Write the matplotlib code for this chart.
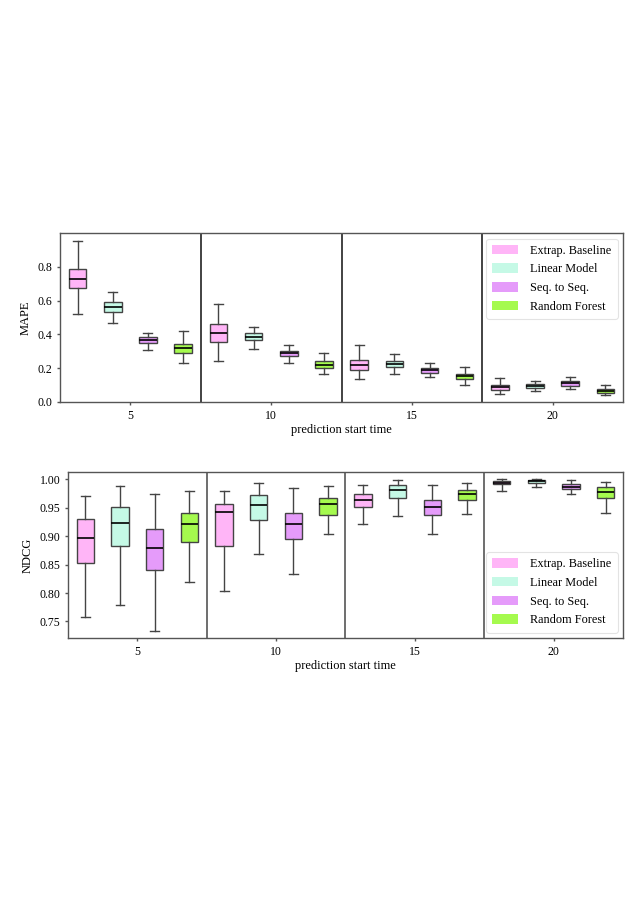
import matplotlib
matplotlib.use("Agg")
import matplotlib.pyplot as plt
from matplotlib.patches import Patch

plt.rcParams['font.family'] = ['Liberation Serif', 'DejaVu Serif']

times = [5, 10, 15, 20]
models = ["Extrap. Baseline", "Linear Model", "Seq. to Seq.", "Random Forest"]
colors = ["#FFB5F7", "#C5F9E6", "#E59BFA", "#A5FA4E"]

# MAPE: per model, per time: [low whisker, Q1, median, Q3, high whisker]
mape_extrap = [[0.518, 0.672, 0.727, 0.790, 0.954], [0.245, 0.358, 0.409, 0.460, 0.581],
               [0.136, 0.190, 0.217, 0.251, 0.336], [0.049, 0.069, 0.087, 0.103, 0.144]]
mape_linear = [[0.468, 0.535, 0.563, 0.589, 0.652], [0.312, 0.365, 0.385, 0.409, 0.446],
               [0.168, 0.209, 0.225, 0.241, 0.282], [0.065, 0.081, 0.095, 0.107, 0.124]]
mape_seq = [[0.310, 0.348, 0.365, 0.383, 0.409], [0.231, 0.271, 0.288, 0.300, 0.340],
            [0.146, 0.174, 0.188, 0.201, 0.233], [0.077, 0.097, 0.113, 0.124, 0.150]]
mape_rf = [[0.231, 0.288, 0.318, 0.346, 0.419], [0.166, 0.203, 0.221, 0.245, 0.290],
           [0.103, 0.134, 0.152, 0.168, 0.209], [0.040, 0.055, 0.067, 0.077, 0.101]]

ndcg_extrap = [[0.758, 0.853, 0.897, 0.930, 0.971], [0.803, 0.882, 0.942, 0.957, 0.979],
               [0.922, 0.952, 0.963, 0.974, 0.990], [0.980, 0.991, 0.994, 0.997, 1.000]]
ndcg_linear = [[0.779, 0.882, 0.924, 0.952, 0.988], [0.868, 0.929, 0.954, 0.973, 0.994],
               [0.936, 0.968, 0.982, 0.990, 0.998], [0.987, 0.994, 0.9965, 0.999, 1.000]]
ndcg_seq = [[0.734, 0.840, 0.880, 0.913, 0.974], [0.833, 0.895, 0.922, 0.941, 0.984],
            [0.903, 0.938, 0.952, 0.963, 0.990], [0.975, 0.9825, 0.9866, 0.991, 0.998]]
ndcg_rf = [[0.819, 0.890, 0.922, 0.941, 0.979], [0.903, 0.937, 0.957, 0.967, 0.988],
           [0.939, 0.964, 0.974, 0.982, 0.994], [0.940, 0.967, 0.978, 0.986, 0.995]]

mape_data = [mape_extrap, mape_linear, mape_seq, mape_rf]
ndcg_data = [ndcg_extrap, ndcg_linear, ndcg_seq, ndcg_rf]

fig = plt.figure(figsize=(6.41, 9.06), dpi=100)
ax1 = fig.add_axes([0.0936, 0.5563, 0.972 - 0.0936, 0.7428 - 0.5563])
ax2 = fig.add_axes([0.106, 0.2958, 0.972 - 0.106, 0.479 - 0.2958])

spine_col = "#555555"
edge_col = "#444444"


def draw(ax, data, ylabel, ylim, yticks, yfmt, legloc, sepcol):
    for m, (mdata, col) in enumerate(zip(data, colors)):
        stats = []
        pos = []
        for t, vals in zip(times, mdata):
            lo, q1, med, q3, hi = vals
            stats.append(dict(whislo=lo, q1=q1, med=med, q3=q3, whishi=hi, fliers=[]))
            pos.append(t - 2.5 + 0.625 + 1.25 * m)
        ax.bxp(stats, positions=pos, widths=0.625, patch_artist=True, showfliers=False,
               boxprops=dict(facecolor=col, edgecolor=edge_col, linewidth=1.0),
               medianprops=dict(color="black", linewidth=1.2),
               whiskerprops=dict(color=edge_col, linewidth=1.0),
               capprops=dict(color=edge_col, linewidth=1.0),
               capwidths=0.32)
    for s in [7.5, 12.5, 17.5]:
        ax.axvline(s, color=sepcol, linewidth=1.2, zorder=0.5)
    ax.set_xlim(2.5, 22.5)
    ax.set_ylim(*ylim)
    ax.set_xticks(times)
    ax.set_xticklabels([str(t) for t in times])
    ax.set_yticks(yticks)
    ax.set_yticklabels([yfmt.format(v) for v in yticks])
    ax.tick_params(labelsize=8.5, length=2.5, width=1, color=spine_col, pad=3)
    for sp in ax.spines.values():
        sp.set_color(spine_col)
        sp.set_linewidth(1.0)
    ax.set_xlabel("prediction start time", fontsize=9, labelpad=2)
    ax.set_ylabel(ylabel, fontsize=9)
    handles = [Patch(facecolor=c, edgecolor="none") for c in colors]
    leg = ax.legend(handles, models, loc=legloc, fontsize=8.8, handlelength=2.1,
                    handleheight=0.8, frameon=True, fancybox=True, framealpha=0.8,
                    borderpad=0.5, labelspacing=0.55, handletextpad=1.0,
                    borderaxespad=0.45)
    leg.get_frame().set_edgecolor("#dddddd")
    leg.get_frame().set_linewidth(0.8)


draw(ax1, mape_data, "MAPE", (0.0, 1.0), [0.0, 0.2, 0.4, 0.6, 0.8], "{:.1f}",
     "upper right", "#222222")
draw(ax2, ndcg_data, "NDCG", (0.7208, 1.0129), [0.75, 0.80, 0.85, 0.90, 0.95, 1.00], "{:.2f}",
     "lower right", "#555555")

fig.savefig("out.png", dpi=100)
